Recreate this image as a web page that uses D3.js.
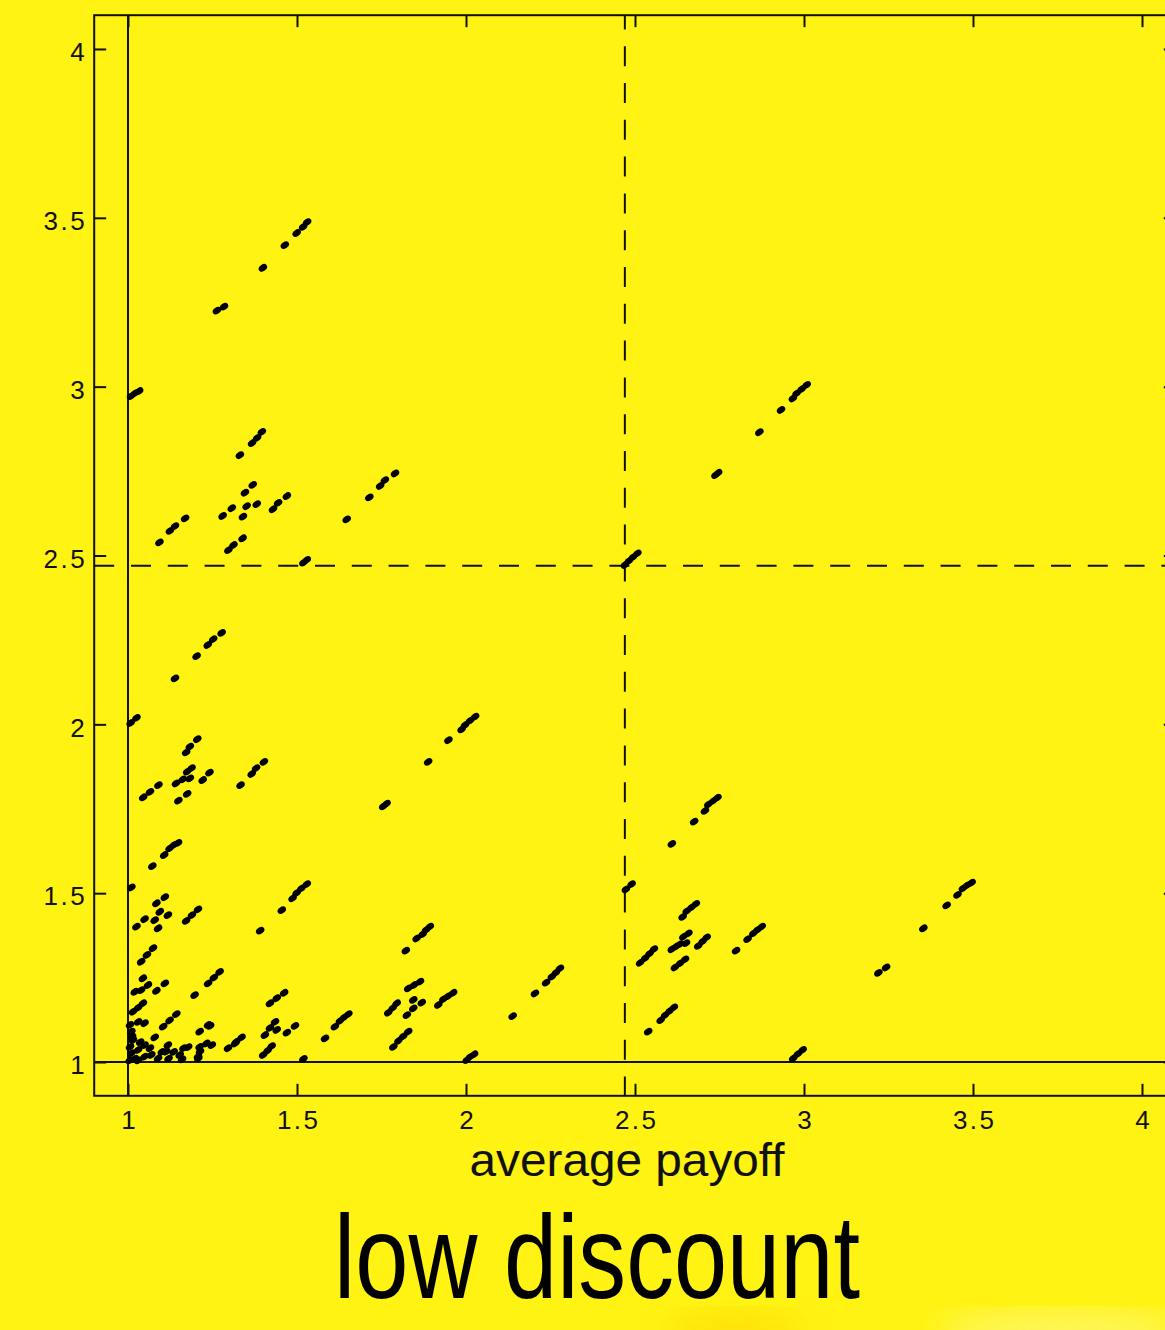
<!DOCTYPE html>
<html><head><meta charset="utf-8">
<script src="https://cdn.jsdelivr.net/npm/d3@7"></script>
<style>html,body{margin:0;padding:0;background:#fff314;overflow:hidden}</style>
</head><body><div id="chart"></div>
<script>
// ---- data ----
const xTicks = [1, 1.5, 2, 2.5, 3, 3.5, 4];
const yTicks = [1, 1.5, 2, 2.5, 3, 3.5, 4];
const thresholdX = 2.47;   // dashed vertical line
const thresholdY = 2.47;   // dashed horizontal line
const baseX = 1;           // solid vertical line
const baseY = 1;           // solid horizontal line
const xTitle = "average payoff";
const caption = "low discount";
// [payoff of player A, payoff of player B]
const points = [
[1.464,3.419],[1.499,3.455],[1.518,3.473],[1.530,3.487],
[1.399,3.352],
[1.263,3.225],[1.284,3.237],
[1.009,2.972],[1.021,2.981],[1.033,2.987],
[1.367,2.833],[1.382,2.848],[1.396,2.866],
[1.331,2.797],
[1.346,2.686],[1.369,2.709],
[1.351,2.646],[1.381,2.652],[1.340,2.615],
[1.280,2.617],[1.307,2.640],
[1.429,2.637],[1.444,2.656],[1.470,2.676],
[1.093,2.539],[1.124,2.573],[1.139,2.587],[1.169,2.610],
[1.297,2.516],[1.312,2.531],[1.339,2.551],
[1.519,2.479],[1.529,2.487],
[1.647,2.607],
[1.714,2.672],[1.746,2.706],[1.760,2.723],[1.790,2.743],
[1.008,2.004],[1.025,2.019],
[1.139,2.136],
[1.203,2.202],[1.236,2.235],[1.252,2.252],[1.277,2.271],
[1.172,1.917],[1.183,1.934],[1.205,1.956],
[1.175,1.860],[1.188,1.870],[1.183,1.840],
[1.142,1.825],[1.162,1.837],
[1.221,1.835],[1.241,1.857],
[1.149,1.774],[1.175,1.794],
[1.045,1.784],[1.065,1.800],[1.090,1.820],
[1.333,1.820],
[1.366,1.853],[1.379,1.870],[1.402,1.889],
[1.755,1.757],[1.765,1.765],
[1.888,1.889],[1.948,1.953],[1.987,1.985],[1.997,1.998],[2.012,2.011],[2.027,2.023],
[1.123,1.633],[1.136,1.643],[1.148,1.649],
[1.107,1.613],[1.072,1.580],[1.010,1.517],
[1.084,1.470],[1.109,1.488],
[1.079,1.420],[1.094,1.445],[1.118,1.435],[1.089,1.396],
[1.025,1.401],[1.049,1.423],
[1.172,1.418],[1.189,1.435],[1.207,1.452],
[1.039,1.297],[1.056,1.317],[1.074,1.337],
[1.391,1.389],
[1.455,1.450],[1.487,1.485],[1.499,1.501],[1.513,1.514],[1.529,1.527],
[1.044,1.248],[1.059,1.228],[1.020,1.208],[1.039,1.213],
[1.084,1.211],[1.109,1.233],
[1.237,1.233],[1.254,1.250],[1.271,1.267],
[1.197,1.198],
[1.015,1.149],[1.030,1.161],[1.044,1.174],
[1.030,1.119],[1.049,1.115],
[1.104,1.105],[1.123,1.123],[1.143,1.142],
[1.212,1.090],[1.237,1.110],[1.243,1.107],
[1.010,1.090],[1.015,1.065],
[1.049,1.050],[1.079,1.073],
[1.118,1.050],[1.113,1.031],
[1.153,1.021],[1.178,1.044],[1.164,1.041],
[1.212,1.045],[1.207,1.016],[1.232,1.055],[1.213,1.031],[1.248,1.050],[1.208,1.011],
[1.296,1.041],[1.320,1.060],[1.336,1.073],[1.317,1.055],
[1.010,1.026],[1.030,1.036],[1.049,1.016],[1.069,1.021],[1.089,1.011],
[1.005,1.005],[1.006,1.045],[1.006,1.110],[1.012,1.075],[1.020,1.010],[1.036,1.059],
[1.065,1.041],[1.030,1.005],[1.120,1.010],[1.160,1.008],[1.100,1.030],[1.135,1.030],
[1.400,1.021],[1.413,1.034],[1.425,1.047],
[1.519,1.009],
[1.420,1.174],[1.440,1.189],[1.462,1.205],
[1.435,1.119],[1.405,1.080],[1.440,1.095],[1.420,1.101],
[1.470,1.087],[1.494,1.107],
[1.583,1.070],[1.612,1.105],[1.627,1.122],[1.639,1.132],[1.652,1.142],
[1.785,1.045],[1.800,1.063],[1.814,1.076],[1.829,1.090],
[1.770,1.146],[1.783,1.160],[1.795,1.174],
[1.825,1.139],[1.844,1.159],
[1.844,1.184],[1.869,1.176],
[1.829,1.218],[1.846,1.228],[1.864,1.238],
[1.918,1.169],[1.933,1.186],[1.947,1.195],[1.962,1.205],
[1.822,1.330],[1.854,1.366],[1.872,1.379],[1.882,1.391],[1.893,1.401],
[2.002,1.006],[2.012,1.015],[2.024,1.023],
[2.138,1.136],
[2.204,1.203],[2.237,1.235],[2.254,1.253],[2.266,1.265],[2.278,1.277],
[2.470,2.472],[2.482,2.484],[2.494,2.495],[2.507,2.506],
[2.738,2.738],[2.746,2.745],
[2.868,2.865],[2.932,2.931],[2.967,2.965],[2.978,2.980],[2.993,2.993],[3.008,3.005],
[2.473,1.511],[2.490,1.527],
[2.609,1.646],[2.675,1.712],[2.707,1.744],[2.717,1.763],[2.731,1.773],[2.744,1.783],
[2.641,1.430],[2.653,1.447],[2.667,1.458],[2.680,1.468],
[2.643,1.371],[2.658,1.381],[2.651,1.352],
[2.609,1.334],[2.621,1.342],[2.633,1.349],
[2.687,1.344],[2.700,1.357],[2.712,1.369],
[2.515,1.294],[2.530,1.308],[2.543,1.321],[2.556,1.334],
[2.618,1.280],[2.633,1.292],[2.648,1.304],
[2.799,1.330],[2.833,1.364],[2.850,1.381],[2.862,1.391],[2.875,1.401],
[2.539,1.090],[2.576,1.124],[2.589,1.139],[2.602,1.151],[2.615,1.162],
[2.968,1.011],[2.982,1.024],[2.996,1.036],
[3.220,1.264],[3.243,1.280],
[3.353,1.396],
[3.422,1.464],[3.454,1.495],[3.470,1.514],[3.482,1.523],[3.496,1.531]
];

// ---- drawing ----
const W = 1165, H = 1330;
const FONT = "'Liberation Sans', Arial, Helvetica, sans-serif";
const svg = d3.select("#chart").append("svg").attr("width", W).attr("height", H);
const defs = svg.append("defs");
defs.append("filter").attr("id","blur").append("feGaussianBlur").attr("stdDeviation", 14);

svg.append("rect").attr("width", W).attr("height", H).attr("fill", "#fff314");
svg.append("ellipse").attr("cx", 735).attr("cy", 1328).attr("rx", 70).attr("ry", 18)
  .attr("fill", "#ffd400").attr("opacity", 0.55).attr("filter", "url(#blur)");
svg.append("ellipse").attr("cx", 1060).attr("cy", 1330).attr("rx", 120).attr("ry", 20)
  .attr("fill", "#fff9a0").attr("opacity", 0.5).attr("filter", "url(#blur)");

const x = d3.scaleLinear().domain([0.9, 4.1]).range([94.2, 1175.8]);
const y = d3.scaleLinear().domain([0.9, 4.1]).range([1095.8, 15.2]);
const [x0, x1] = x.range(), [y0, y1] = y.range();

const g = svg.append("g");

// axes (ticks inward)
const tickFmt = d => String(d);
const axLeft = g.append("g").attr("transform", `translate(${x0},0)`)
  .call(d3.axisLeft(y).tickValues(yTicks).tickFormat(tickFmt).tickSize(-12).tickPadding(7));
const axBottom = g.append("g").attr("transform", `translate(0,${y0})`)
  .call(d3.axisBottom(x).tickValues(xTicks).tickFormat(tickFmt).tickSize(-12).tickPadding(15));
const axTop = g.append("g").attr("transform", `translate(0,${y1})`)
  .call(d3.axisTop(x).tickValues(xTicks).tickFormat("").tickSize(-12));
const axRight = g.append("g").attr("transform", `translate(${x1},0)`)
  .call(d3.axisRight(y).tickValues(yTicks).tickFormat("").tickSize(-12));
[axLeft, axBottom, axTop, axRight].forEach(a => {
  a.select(".domain").remove();
  a.selectAll(".tick line").attr("stroke", "#111").attr("stroke-width", 2);
  a.selectAll(".tick text").attr("fill", "#111").attr("font-family", FONT)
    .attr("font-size", 26).style("letter-spacing", "2.5px");
});
axLeft.selectAll(".tick text").attr("dy", "0.45em");
axBottom.selectAll(".tick text").attr("dy", "0.71em").attr("dx", "1.2");

// frame
g.append("rect").attr("x", x0).attr("y", y1).attr("width", x1 - x0).attr("height", y0 - y1)
  .attr("fill", "none").attr("stroke", "#111").attr("stroke-width", 2);

// solid reference lines
g.append("line").attr("x1", x(baseX)).attr("x2", x(baseX)).attr("y1", y1).attr("y2", y0)
  .attr("stroke", "#111").attr("stroke-width", 2);
g.append("line").attr("x1", x0).attr("x2", x1).attr("y1", y(baseY)).attr("y2", y(baseY))
  .attr("stroke", "#111").attr("stroke-width", 2);

// dashed threshold lines
g.append("line").attr("x1", x(thresholdX)).attr("x2", x(thresholdX)).attr("y1", y1).attr("y2", y0)
  .attr("stroke", "#111").attr("stroke-width", 2).attr("stroke-dasharray", "20 16.8").attr("stroke-dashoffset", 5.8);
g.append("line").attr("x1", x0).attr("x2", x1).attr("y1", y(thresholdY)).attr("y2", y(thresholdY))
  .attr("stroke", "#111").attr("stroke-width", 2).attr("stroke-dasharray", "20 16.8");

// points
g.append("g").selectAll("ellipse").data(points).join("ellipse")
  .attr("cx", d => x(d[0])).attr("cy", d => y(d[1]))
  .attr("rx", 4.6).attr("ry", 3.2)
  .attr("transform", d => `rotate(-35 ${x(d[0])} ${y(d[1])})`)
  .attr("fill", "#000");

// titles
svg.append("text").attr("x", 627).attr("y", 1176).attr("text-anchor", "middle")
  .attr("font-family", FONT).attr("font-size", 46).attr("fill", "#111")
  .attr("textLength", 315).attr("lengthAdjust", "spacingAndGlyphs").text(xTitle);
svg.append("text").attr("x", 597).attr("y", 1298).attr("text-anchor", "middle")
  .attr("font-family", FONT).attr("font-size", 118).attr("fill", "#000")
  .attr("textLength", 526).attr("lengthAdjust", "spacingAndGlyphs").text(caption);
</script>
</body></html>
